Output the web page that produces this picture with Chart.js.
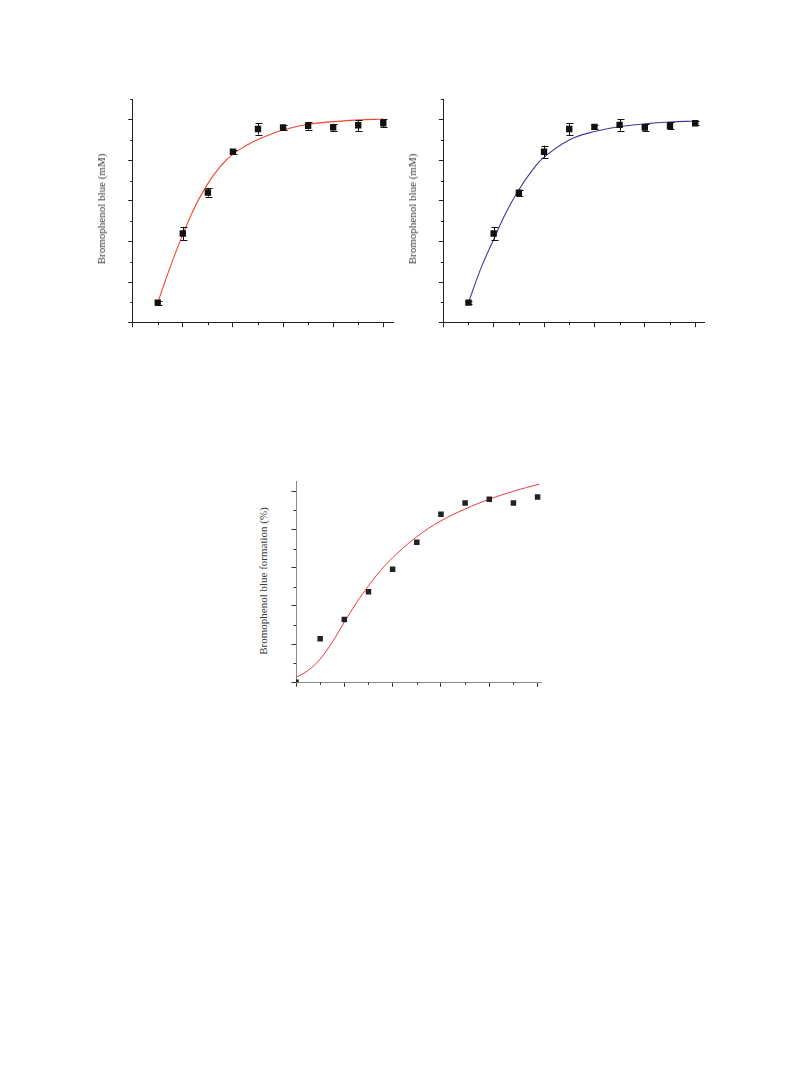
<!DOCTYPE html>
<html>
<head>
<meta charset="utf-8">
<script src="https://cdn.jsdelivr.net/npm/chart.js@4/dist/chart.umd.min.js"></script>
<style>
  html, body { margin: 0; padding: 0; background: #fff; }
  body { width: 800px; height: 1067px; position: relative; overflow: hidden; }
  canvas { position: absolute; }
  .lbl { position: absolute; font-family: "Liberation Serif", "Times New Roman", serif; font-size: 11px; color: #3a3a3a;
         white-space: nowrap; transform: translate(-50%, -50%) rotate(-90deg); }
</style>
</head>
<body>
<canvas id="c1" style="left:80px;top:85px;width:330px;height:265px" width="330" height="265"></canvas>
<canvas id="c2" style="left:412px;top:85px;width:305px;height:265px" width="305" height="265"></canvas>
<canvas id="c3" style="left:270px;top:465px;width:290px;height:235px" width="290" height="235"></canvas>
<div class="lbl" style="left:101px;top:209px">Bromophenol blue (mM)</div>
<div class="lbl" style="left:412px;top:209px">Bromophenol blue (mM)</div>
<div class="lbl" style="left:263px;top:581px">Bromophenol blue formation (%)</div>
<script>
// ---------- data ----------
const xCats = [1, 2, 3, 4, 5, 6, 7, 8, 9, 10];

// Panel A (red fit)
const aValues = [0.99, 4.39, 6.41, 8.42, 9.54, 9.62, 9.70, 9.62, 9.72, 9.82];
const aErrors = [0.10, 0.33, 0.20, 0.10, 0.28, 0.12, 0.19, 0.18, 0.28, 0.20];
const aFitX = [1, 1.5, 2, 2.5, 3, 3.5, 4, 4.5, 5, 6, 7, 8, 9, 10];
const aFitY = [0.99, 2.75, 4.35, 5.75, 6.85, 7.7, 8.3, 8.7, 9.02, 9.49, 9.77, 9.9, 9.98, 10.03];

// Panel B (blue fit)
const bValues = [0.99, 4.39, 6.40, 8.42, 9.54, 9.64, 9.74, 9.61, 9.70, 9.82];
const bErrors = [0.08, 0.30, 0.15, 0.30, 0.30, 0.10, 0.29, 0.15, 0.17, 0.10];
const bFitX = [1, 1.5, 2, 2.5, 3, 3.5, 4, 5, 6, 7, 8, 9, 10];
const bFitY = [0.99, 2.7, 4.1, 5.45, 6.55, 7.45, 8.15, 9.0, 9.41, 9.65, 9.79, 9.88, 9.93];

// Panel C (formation %)
const cX = [0, 1, 2, 3, 4, 5, 6, 7, 8, 9, 10];
const cValues = [0, 2.28, 3.29, 4.74, 5.92, 7.33, 8.80, 9.39, 9.58, 9.39, 9.70];
const cFitX = [0, 0.5, 1, 1.5, 2, 2.5, 3, 3.5, 4, 5, 6, 7, 8, 9, 10.07];
const cFitY = [0.26, 0.62, 1.22, 2.1, 3.15, 4.15, 5.05, 5.85, 6.52, 7.62, 8.45, 9.07, 9.58, 10.0, 10.37];

// ---------- helpers ----------
const zip = (xs, ys) => xs.map((x, i) => ({ x: x, y: ys[i] }));

const errorBarPlugin = {
  id: 'errorBars',
  afterDatasetsDraw(chart) {
    const ctx = chart.ctx;
    chart.data.datasets.forEach((ds) => {
      if (!ds.errors) return;
      const xs = chart.scales.x, ys = chart.scales.y;
      ctx.save();
      ctx.strokeStyle = '#111';
      ctx.lineWidth = 1;
      ds.data.forEach((p, i) => {
        const e = ds.errors[i];
        const px = Math.round(xs.getPixelForValue(p.x)) + 0.5;
        const yt = ys.getPixelForValue(p.y + e);
        const yb = ys.getPixelForValue(p.y - e);
        ctx.beginPath();
        ctx.moveTo(px, yt); ctx.lineTo(px, yb);
        ctx.moveTo(px - 3, Math.round(yt) + 0.5); ctx.lineTo(px + 4, Math.round(yt) + 0.5);
        ctx.moveTo(px - 3, Math.round(yb) + 0.5); ctx.lineTo(px + 4, Math.round(yb) + 0.5);
        ctx.stroke();
      });
      ctx.restore();
    });
  }
};

const minorTickPlugin = {
  id: 'minorTicks',
  afterDraw(chart, args, opts) {
    const ctx = chart.ctx;
    const xs = chart.scales.x, ys = chart.scales.y;
    const a = chart.chartArea;
    ctx.save();
    ctx.strokeStyle = opts.color || '#333';
    ctx.lineWidth = 1;
    ctx.beginPath();
    xs.ticks.forEach(t => {
      if (t.value % 2 === 1) {
        const px = Math.round(xs.getPixelForValue(t.value)) + 0.5;
        ctx.moveTo(px, a.bottom); ctx.lineTo(px, a.bottom + 2.5);
      }
    });
    ys.ticks.forEach(t => {
      if (t.value % 2 === 1) {
        const py = Math.round(ys.getPixelForValue(t.value)) + 0.5;
        ctx.moveTo(a.left, py); ctx.lineTo(a.left - 2.5, py);
      }
    });
    ctx.stroke();
    ctx.restore();
  }
};

function axis(min, max, axisColor, tickColor) {
  return {
    type: 'linear', min: min, max: max,
    afterFit(scale) { if (scale.isHorizontal()) scale.height = 0; else scale.width = 0; },
    ticks: { display: false, stepSize: 1, includeBounds: false },
    grid: {
      display: true, drawOnChartArea: false, drawTicks: true, tickLength: 4.5,
      tickWidth: 1,
      tickColor: (c) => (c.tick && c.tick.value % 2 === 0) ? tickColor : 'rgba(0,0,0,0)'
    },
    border: { display: true, color: axisColor, width: 1 }
  };
}

function makeChart(id, cfg) {
  return new Chart(document.getElementById(id), {
    data: { datasets: cfg.datasets },
    options: {
      responsive: false, animation: false, devicePixelRatio: 1,
      layout: { padding: cfg.padding },
      plugins: { legend: { display: false }, tooltip: { enabled: false }, minorTicks: { color: cfg.tickColor } },
      scales: { x: axis(cfg.xMin, cfg.xMax, cfg.axisColor, cfg.tickColor), y: axis(0, cfg.yMax, cfg.axisColor, cfg.tickColor) }
    },
    plugins: [errorBarPlugin, minorTickPlugin]
  });
}

// Panel A
makeChart('c1', {
  padding: { left: 52.7, top: 14.3, right: 16.7, bottom: 27.3 },
  xMin: 0, xMax: 10.4, yMax: 11, axisColor: '#222', tickColor: '#222',
  datasets: [
    { type: 'line', data: zip(aFitX, aFitY), borderColor: '#f0442e', borderWidth: 1.1, pointRadius: 0, tension: 0.4, order: 2 },
    { type: 'scatter', data: zip(xCats, aValues), errors: aErrors, pointStyle: 'rect', pointRadius: 4.5, backgroundColor: '#111', borderColor: '#111', borderWidth: 0, order: 1 }
  ]
});

// Panel B
makeChart('c2', {
  padding: { left: 31.3, top: 14.3, right: 13, bottom: 27.3 },
  xMin: 0, xMax: 10.35, yMax: 11, axisColor: '#222', tickColor: '#222',
  datasets: [
    { type: 'line', data: zip(bFitX, bFitY), borderColor: '#3f3a9c', borderWidth: 1.1, pointRadius: 0, tension: 0.4, order: 2 },
    { type: 'scatter', data: zip(xCats, bValues), errors: bErrors, pointStyle: 'rect', pointRadius: 4.5, backgroundColor: '#111', borderColor: '#111', borderWidth: 0, order: 1 }
  ]
});

// Panel C
makeChart('c3', {
  padding: { left: 26, top: 16.7, right: 18.3, bottom: 17.7 },
  xMin: 0, xMax: 10.17, yMax: 10.5, axisColor: '#888', tickColor: '#333',
  datasets: [
    { type: 'line', data: zip(cFitX, cFitY), borderColor: '#ea3a40', borderWidth: 1, pointRadius: 0, tension: 0.4, order: 2 },
    { type: 'scatter', data: zip(cX, cValues), pointStyle: 'rect', pointRadius: 3.9, backgroundColor: '#222', borderColor: '#222', borderWidth: 0, order: 1 }
  ]
});
</script>
</body>
</html>
